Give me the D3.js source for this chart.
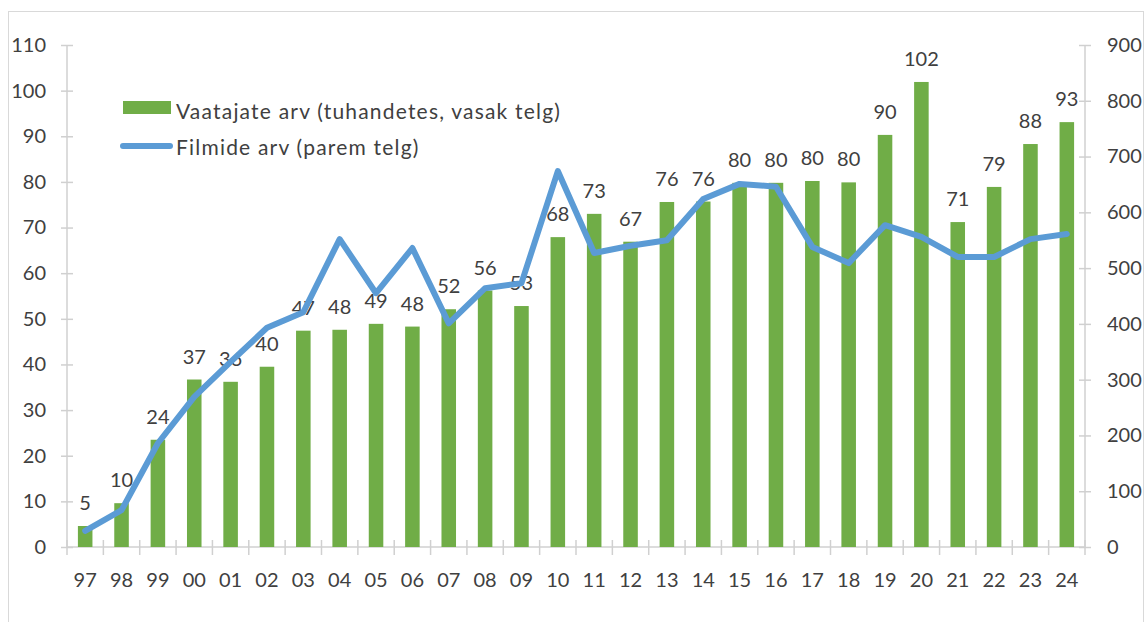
<!DOCTYPE html>
<html>
<head>
<meta charset="utf-8">
<script src="https://cdn.jsdelivr.net/npm/d3@7"></script>
<style>
	body { margin: 0; background: #fff; }
	svg text { font-family: Lato, "Noto Sans", sans-serif; fill: #404040; }
</style>
</head>
<body>
<div id="chart"></div>
<script>
/* global d3 */

// Aastad (x-telg)
var years = ['97', '98', '99', '00', '01', '02', '03', '04', '05', '06', '07', '08', '09', '10',
	'11', '12', '13', '14', '15', '16', '17', '18', '19', '20', '21', '22', '23', '24'];

// Vaatajate arv, tuhandetes (vasak telg)
var viewers = [4.6, 9.6, 23.5, 36.7, 36.2, 39.5, 47.4, 47.6, 48.9, 48.3, 52.1, 56.2, 52.8, 67.9,
	73.0, 66.9, 75.6, 75.7, 79.8, 79.8, 80.2, 79.9, 90.3, 101.9, 71.2, 78.9, 88.3, 93.1];

// Filmide arv (parem telg)
var films = [29, 66, 186, 269, 332, 393, 421, 552, 455, 536, 401, 464, 473, 674,
	527, 540, 550, 624, 651, 646, 538, 509, 577, 556, 520, 520, 552, 561];

var leftTicks = [0, 10, 20, 30, 40, 50, 60, 70, 80, 90, 100, 110];
var rightTicks = [0, 100, 200, 300, 400, 500, 600, 700, 800, 900];

var seriesNames = ['Vaatajate arv (tuhandetes, vasak telg)', 'Filmide arv (parem telg)'];

(function() {

	var W = 1148, H = 622,
		margin = { top: 45, left: 67, right: 63, bottom: 75 },
		width = W - margin.left - margin.right,
		height = H - margin.top - margin.bottom,
		green = '#70ad47',
		blue = '#5b9bd5',
		axisColor = '#d0d0d0',
		fontSize = 20;

	var svg = d3.select('#chart').append('svg')
		.attr('width', W)
		.attr('height', H);

	// Chart frame
	svg.append('rect')
		.attr('x', 8.5).attr('y', 11.5)
		.attr('width', 1135).attr('height', 640)
		.attr('fill', 'none')
		.attr('stroke', '#d9d9d9');

	var g = svg.append('g')
		.attr('transform', 'translate(' + margin.left + ',' + margin.top + ')');

	var x = d3.scaleBand().domain(years).range([0, width]).paddingInner(0.6).paddingOuter(0.3),
		xOuter = d3.scaleBand().domain(years).range([0, width]),
		yL = d3.scaleLinear().domain([0, 110]).range([height, 0]),
		yR = d3.scaleLinear().domain([0, 900]).range([height, 0]);

	// Left axis
	var gL = g.append('g').call(d3.axisLeft(yL).tickValues(leftTicks).tickSize(6).tickPadding(15));
	gL.selectAll('.tick line').attr('x2', 6).attr('x1', -6);
	// Right axis
	var gR = g.append('g').attr('transform', 'translate(' + width + ',0)')
		.call(d3.axisRight(yR).tickValues(rightTicks).tickSize(6).tickPadding(16));
	gR.selectAll('.tick line').attr('x1', -6).attr('x2', 6);
	// Bottom axis with ticks at category boundaries
	var gX = g.append('g').attr('transform', 'translate(0,' + height + ')')
		.call(d3.axisBottom(xOuter).tickSize(0).tickPadding(26));
	gX.selectAll('.bound')
		.data(d3.range(years.length + 1))
		.enter().append('line')
		.attr('class', 'bound')
		.attr('x1', function(i) { return i * xOuter.step(); })
		.attr('x2', function(i) { return i * xOuter.step(); })
		.attr('y1', -7).attr('y2', 8);

	[gL, gR, gX].forEach(function(a) {
		a.select('.domain').attr('stroke', axisColor).attr('stroke-width', 1.5);
		a.selectAll('line').attr('stroke', axisColor).attr('stroke-width', 1.5);
		a.selectAll('text').attr('font-size', fontSize).attr('font-family', null).attr('fill', '#404040');
	});
	gL.select('.domain').attr('d', 'M0,0V' + height);
	gR.select('.domain').attr('d', 'M0,0V' + height);
	gX.select('.domain').attr('d', 'M0,0H' + width);

	// Bars
	g.append('g').selectAll('rect')
		.data(viewers)
		.enter().append('rect')
		.attr('x', function(d, i) { return x(years[i]); })
		.attr('width', x.bandwidth())
		.attr('y', function(d) { return yL(d); })
		.attr('height', function(d) { return height - yL(d); })
		.attr('fill', green);

	// Bar value labels
	g.append('g').selectAll('text')
		.data(viewers)
		.enter().append('text')
		.attr('x', function(d, i) { return x(years[i]) + x.bandwidth() / 2; })
		.attr('y', function(d) { return yL(d) - 16; })
		.attr('text-anchor', 'middle')
		.attr('font-size', fontSize)
		.text(function(d) { return Math.round(d); });

	// Line
	var line = d3.line()
		.x(function(d, i) { return xOuter(years[i]) + xOuter.bandwidth() / 2; })
		.y(function(d) { return yR(d); });
	g.append('path')
		.datum(films)
		.attr('d', line)
		.attr('fill', 'none')
		.attr('stroke', blue)
		.attr('stroke-width', 6)
		.attr('stroke-linejoin', 'round')
		.attr('stroke-linecap', 'round');

	// Legend
	var leg = svg.append('g');
	leg.append('rect')
		.attr('x', 123).attr('y', 101).attr('width', 48).attr('height', 13)
		.attr('fill', green);
	leg.append('text')
		.attr('x', 176).attr('y', 119)
		.attr('font-size', 21)
		.attr('letter-spacing', 1.2)
		.text(seriesNames[0]);
	leg.append('line')
		.attr('x1', 123).attr('x2', 170).attr('y1', 146).attr('y2', 146)
		.attr('stroke', blue).attr('stroke-width', 6).attr('stroke-linecap', 'round');
	leg.append('text')
		.attr('x', 176).attr('y', 155)
		.attr('font-size', 21)
		.attr('letter-spacing', 1.2)
		.text(seriesNames[1]);

})();
</script>
</body>
</html>
